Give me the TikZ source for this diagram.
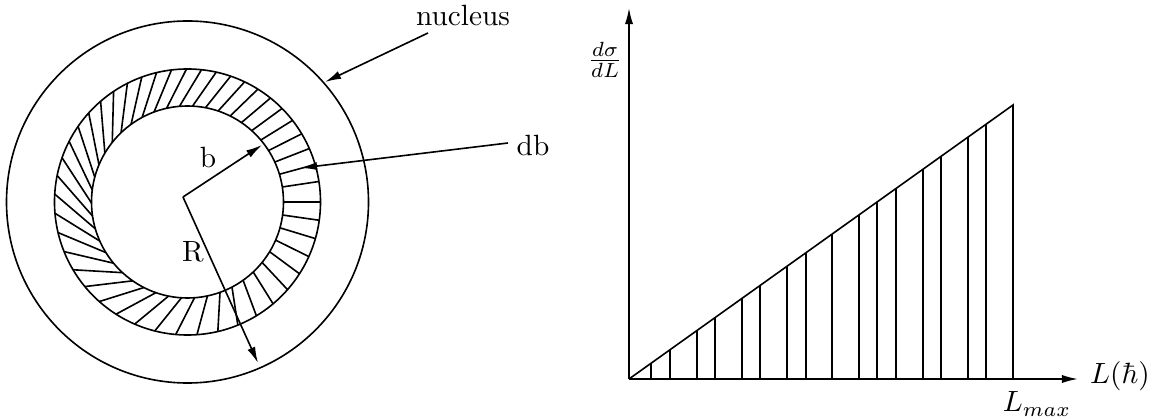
\documentclass[tikz,border=0pt]{standalone}
\usetikzlibrary{arrows.meta}
\begin{document}
\begin{tikzpicture}[x=0.012cm, y=-0.012cm, line width=0.55pt,
  arr/.style={-{Latex[length=5.5pt,width=2.8pt]}},
  lbl/.style={inner sep=1pt}]
\useasboundingbox (0,0) rectangle (1164,419);
\coordinate (ctr) at (187.5,202);
\coordinate (c) at (183,197);
\draw (ctr) circle [radius=181];
\draw (ctr) circle [radius=133];
\draw (ctr) circle [radius=96];
\foreach \a in {0,7.8,...,355}
  \draw[shift={(ctr)}] (\a:96) -- ({\a+10-10*cos(\a)}:133);
\coordinate (btip) at (262,145);
\coordinate (Rtip) at (258,363);
\draw[arr] (c) -- (btip);
\draw[arr] (c) -- (Rtip);
\node[lbl] (b) at (208,157) {b};
\node[lbl] (R) at (193,252) {R};
\node[lbl] (nuc) at (463,15) {nucleus};
\node[lbl] (db) at (533,145) {db};
\coordinate (nuctail) at (428,33);
\coordinate (nuchead) at (325,82);
\draw[arr] (nuctail) -- (nuchead);
\coordinate (dbtail) at (508,143);
\coordinate (dbhead) at (301,168);
\draw[arr] (dbtail) -- (dbhead);
\coordinate (O) at (629,379);
\coordinate (xend) at (1078,379);
\coordinate (yend) at (629,8);
\coordinate (top) at (1013,105);
\coordinate (Lm) at (1013,379);
\draw[arr] (O) -- (xend);
\draw[arr] (O) -- (yend);
\draw (O) -- (top) -- (Lm);
\foreach \x in {651,670,697,715,742,760,787,806,832,859,877,896,923,941,968,986}
  \draw (\x,379) -- (\x,{379-(\x-629)*0.7135});
\node[lbl] (dsdl) at (605,60) {$\frac{d\sigma}{dL}$};
\node[lbl] (Lh) at (1120,376) {$L(\hbar)$};
\node[lbl] (Lmax) at (1037,404) {$L_{max}$};
\end{tikzpicture}
\end{document}
